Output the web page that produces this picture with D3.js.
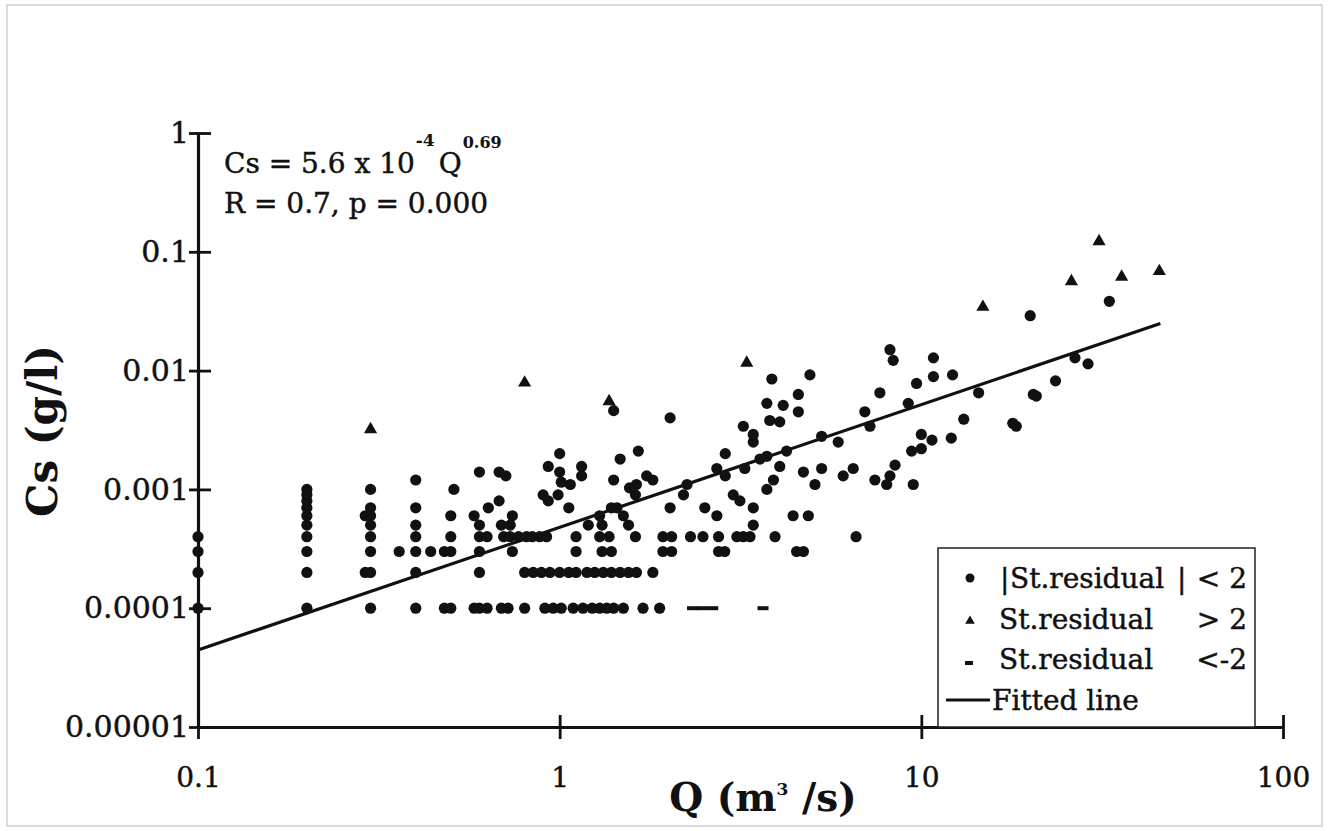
<!DOCTYPE html>
<html><head><meta charset="utf-8">
<script src="https://cdn.jsdelivr.net/npm/d3@7"></script>
<style>
body{margin:0;background:#fff}
svg{display:block}
text{font-family:"DejaVu Serif",serif;fill:#111}
.r{stroke:#111;stroke-width:0.45px}
</style>
</head><body>
<svg id="c" width="1328" height="831"></svg>
<script>
// ---- data ----
const xTicks = [0.1, 1, 10, 100];
const xTickLabels = ["0.1", "1", "10", "100"];
const yTicks = [0.00001, 0.0001, 0.001, 0.01, 0.1, 1];
const yTickLabels = ["0.00001", "0.0001", "0.001", "0.01", "0.1", "1"];

// |St.residual| < 2  : [Q, Cs]
const dots = [
  [0.1,0.0004],[0.1,0.0003],[0.1,0.0002],[0.1,0.0001],
  [0.2,0.001],[0.2,0.0009],[0.2,0.0008],[0.2,0.0007],[0.2,0.0006],[0.2,0.0005],[0.2,0.0004],[0.2,0.0003],[0.2,0.0002],[0.2,0.0001],
  [0.3,0.001],[0.3,0.0007],[0.29,0.0006],[0.3,0.0006],[0.3,0.0005],[0.3,0.0004],[0.3,0.0003],[0.29,0.0002],[0.3,0.0002],[0.3,0.0001],
  [0.4,0.0012],[0.4,0.0007],[0.4,0.0005],[0.4,0.0004],[0.36,0.0003],[0.4,0.0003],[0.44,0.0003],[0.4,0.0002],[0.4,0.0001],
  [0.51,0.001],[0.5,0.0006],[0.5,0.0004],[0.48,0.0003],[0.5,0.0003],[0.48,0.0001],[0.5,0.0001],
  [0.6,0.0014],[0.635,0.0007],[0.58,0.0006],[0.6,0.0005],[0.6,0.0004],[0.63,0.0004],[0.6,0.0003],[0.6,0.0002],[0.58,0.0001],[0.6,0.0001],[0.63,0.0001],
  [0.68,0.0014],[0.71,0.0013],[0.68,0.0008],[0.74,0.0006],[0.69,0.0005],[0.73,0.0005],[0.70,0.0004],[0.73,0.0004],[0.77,0.0004],[0.81,0.0004],[0.84,0.0004],[0.88,0.0004],[0.92,0.0004],[0.74,0.0003],[0.69,0.0001],[0.72,0.0001],
  [0.80,0.0002],[0.845,0.0002],[0.89,0.0002],[0.94,0.0002],[1.0,0.0002],[1.06,0.0002],[1.11,0.0002],[1.19,0.0002],[1.25,0.0002],[1.32,0.0002],[1.39,0.0002],[1.47,0.0002],[1.55,0.0002],[1.63,0.0002],[1.81,0.0002],
  [0.80,0.0001],[0.91,0.0001],[0.96,0.0001],[1.01,0.0001],[1.09,0.0001],[1.16,0.0001],[1.23,0.0001],[1.29,0.0001],[1.35,0.0001],[1.41,0.0001],[1.50,0.0001],[1.70,0.0001],[1.89,0.0001],
  [0.93,0.00156],[1.0,0.002],[1.0,0.0014],[1.15,0.00156],[1.15,0.0013],[1.01,0.00115],[1.07,0.0011],[0.9,0.0009],[0.99,0.0009],[0.93,0.0008],[1.06,0.0007],
  [1.11,0.0004],[1.29,0.0004],[1.37,0.0004],[1.62,0.0004],[1.93,0.0004],[2.04,0.0004],[2.3,0.0004],[2.49,0.0004],[2.75,0.0004],[3.09,0.0004],[3.22,0.0004],[3.36,0.0004],[3.94,0.0004],[6.6,0.0004],
  [1.11,0.0003],[1.31,0.0003],[1.39,0.0003],[1.93,0.0003],[2.04,0.0003],[2.75,0.0003],[2.86,0.0003],[4.52,0.0003],[4.72,0.0003],
  [1.2,0.0005],[1.31,0.0005],[1.55,0.0005],[3.43,0.0005],
  [1.29,0.0006],[1.5,0.0006],[2.72,0.0006],[4.42,0.0006],[4.87,0.0006],
  [1.39,0.0007],[1.44,0.0007],[2.02,0.0007],[2.52,0.0007],[3.43,0.0007],
  [3.15,0.0008],[1.62,0.0009],[2.2,0.0009],[3.02,0.0009],
  [1.56,0.00103],[1.63,0.0011],[1.74,0.0013],[1.81,0.0012],[2.25,0.0011],[3.74,0.001],[1.41,0.0012],[3.9,0.0012],
  [4.72,0.0014],[5.08,0.0011],[5.3,0.0015],[6.08,0.0013],[6.48,0.0015],[7.44,0.0012],[8.02,0.0011],[8.19,0.0013],[8.46,0.0016],[9.5,0.0011],
  [4.06,0.00156],[2.72,0.0015],[2.87,0.0013],[3.25,0.0015],[3.58,0.0018],[3.74,0.0019],[4.24,0.0021],[2.87,0.002],
  [1.47,0.0018],[1.65,0.0021],[2.02,0.004],[1.41,0.0046],
  [3.43,0.0029],[3.43,0.0025],[3.22,0.0034],[3.81,0.0038],[4.06,0.0037],[3.74,0.0053],[4.15,0.0051],[4.57,0.0063],[4.57,0.0045],[3.86,0.0085],[4.92,0.0092],
  [5.3,0.0028],[5.89,0.0025],[6.98,0.0045],[7.21,0.0034],[7.68,0.0065],[8.19,0.015],[8.36,0.0122],[9.2,0.0053],[9.7,0.0078],[9.4,0.0021],[10.0,0.0022],[10.0,0.0029],[10.7,0.0026],[10.8,0.0128],[10.8,0.0089],
  [12.1,0.0027],[12.2,0.0092],[13.1,0.0039],[14.4,0.0065],[17.9,0.0036],[18.3,0.0034],[20.0,0.029],[20.4,0.0063],[20.8,0.0061],[23.5,0.0082],[26.6,0.0128],[28.9,0.0114],[33.1,0.0383]
];
// St.residual > 2
const triangles = [[0.3,0.0032],[0.8,0.0079],[1.37,0.0055],[3.29,0.0116],[14.8,0.0343],[26.0,0.0564],[31.0,0.1225],[35.8,0.0615],[45.5,0.0685]];
// St.residual < -2
const dashes = [[2.33,0.0001],[2.48,0.0001],[2.65,0.0001],[3.65,0.0001]];
// fitted line end points
const fitQ = [0.1, 45.8];
const fitCs = [0.0000445, 0.0249];

// ---- chart ----
const svg = d3.select("#c");
const x = d3.scaleLog().domain([0.1, 100]).range([198, 1283]);
const y = d3.scaleLog().domain([0.00001, 1]).range([727, 133]);

svg.append("rect").attr("x",7).attr("y",5).attr("width",1315).attr("height",821)
  .attr("fill","#fff").attr("stroke","#cfcfcf").attr("stroke-width",1.5);

// y axis
const gy = svg.append("g").attr("transform","translate(198,0)")
  .call(d3.axisLeft(y).tickValues(yTicks).tickFormat((d,i)=>yTickLabels[i]).tickSizeOuter(0).tickSizeInner(0).tickPadding(9));
gy.select(".domain").attr("stroke","#111").attr("stroke-width",3.2);
gy.selectAll(".tick line").attr("x1",-9).attr("x2",13).attr("stroke","#111").attr("stroke-width",2.8);
gy.selectAll(".tick text").attr("class","r").style("font-size","30px").attr("fill","#111");

// x axis
const gx = svg.append("g").attr("transform","translate(0,727)")
  .call(d3.axisBottom(x).tickValues(xTicks).tickFormat((d,i)=>xTickLabels[i]).tickSizeOuter(0).tickSizeInner(0).tickPadding(40));
gx.select(".domain").attr("stroke","#111").attr("stroke-width",3.2);
gx.selectAll(".tick line").attr("y1",-12).attr("y2",12).attr("stroke","#111").attr("stroke-width",2.8);
gx.selectAll(".tick text").attr("class","r").style("font-size","28px").attr("fill","#111");

// axis titles
svg.append("text").attr("transform","translate(57,431) rotate(-90)").attr("text-anchor","middle")
  .style("font-size","42px").style("font-weight","bold").text("Cs (g/l)");
const xt = svg.append("text").attr("x",763).attr("y",811).attr("text-anchor","middle")
  .style("font-size","39px").style("font-weight","bold");
xt.append("tspan").text("Q (m");
xt.append("tspan").attr("dy",-16).style("font-size","17px").text("3");
xt.append("tspan").attr("dy",16).text(" /s)");

// fitted line
svg.append("line").attr("x1",x(fitQ[0])).attr("y1",y(fitCs[0])).attr("x2",x(fitQ[1])).attr("y2",y(fitCs[1]))
  .attr("stroke","#111").attr("stroke-width",3.2);

// points
svg.append("g").selectAll("circle").data(dots).join("circle")
  .attr("cx",d=>x(d[0])).attr("cy",d=>y(d[1])).attr("r",5.6).attr("fill","#111");
const tri = d3.symbol().type(d3.symbolTriangle).size(75);
svg.append("g").selectAll("path").data(triangles).join("path")
  .attr("d",tri).attr("transform",d=>`translate(${x(d[0])},${y(d[1])})`).attr("fill","#111");
svg.append("g").selectAll("rect").data(dashes).join("rect")
  .attr("x",d=>x(d[0])-5.5).attr("y",d=>y(d[1])-2).attr("width",11).attr("height",4).attr("fill","#111");

// equation
const eqX = 224;
const e1 = svg.append("text").attr("class","r").attr("x",eqX).attr("y",173).style("font-size","28px").text("Cs = 5.6 x 10");
const w1 = e1.node().getComputedTextLength();
const s1 = svg.append("text").attr("x",eqX+w1+1).attr("y",146).style("font-size","17px").style("font-weight","bold").text("-4");
const ws1 = s1.node().getComputedTextLength();
const q = svg.append("text").attr("class","r").attr("x",eqX+w1+ws1+5).attr("y",173).style("font-size","28px").text("Q");
const wq = q.node().getComputedTextLength();
svg.append("text").attr("x",eqX+w1+ws1+5+wq+1).attr("y",148).style("font-size","16px").style("font-weight","bold").text("0.69");
svg.append("text").attr("class","r").attr("x",eqX).attr("y",213).style("font-size","28px").text("R = 0.7, p = 0.000");

// legend
const lg = svg.append("g");
lg.append("rect").attr("x",938).attr("y",548).attr("width",317).attr("height",179)
  .attr("fill","#fff").attr("stroke","#222").attr("stroke-width",1.5);
const fs = "28px";
lg.append("circle").attr("cx",970).attr("cy",578).attr("r",4.5).attr("fill","#111");
lg.append("text").attr("class","r").attr("x",1000).attr("y",588).style("font-size",fs).text("|");
lg.append("text").attr("class","r").attr("x",1010).attr("y",588).style("font-size",fs).text("St.residual");
lg.append("text").attr("class","r").attr("x",1177).attr("y",588).style("font-size",fs).text("|");
lg.append("text").attr("class","r").attr("x",1247).attr("y",588).attr("text-anchor","end").style("font-size",fs).text("< 2");
lg.append("path").attr("d",d3.symbol().type(d3.symbolTriangle).size(40)).attr("transform","translate(970,621)").attr("fill","#111");
lg.append("text").attr("class","r").attr("x",999).attr("y",629).style("font-size",fs).text("St.residual");
lg.append("text").attr("class","r").attr("x",1247).attr("y",629).attr("text-anchor","end").style("font-size",fs).text("> 2");
lg.append("rect").attr("x",965).attr("y",661).attr("width",8).attr("height",4).attr("fill","#111");
lg.append("text").attr("class","r").attr("x",999).attr("y",669).style("font-size",fs).text("St.residual");
lg.append("text").attr("class","r").attr("x",1247).attr("y",669).attr("text-anchor","end").style("font-size",fs).text("<-2");
lg.append("line").attr("x1",946).attr("x2",990).attr("y1",700).attr("y2",700).attr("stroke","#111").attr("stroke-width",3);
lg.append("text").attr("class","r").attr("x",992).attr("y",710).style("font-size",fs).text("Fitted line");
</script>
</body></html>
